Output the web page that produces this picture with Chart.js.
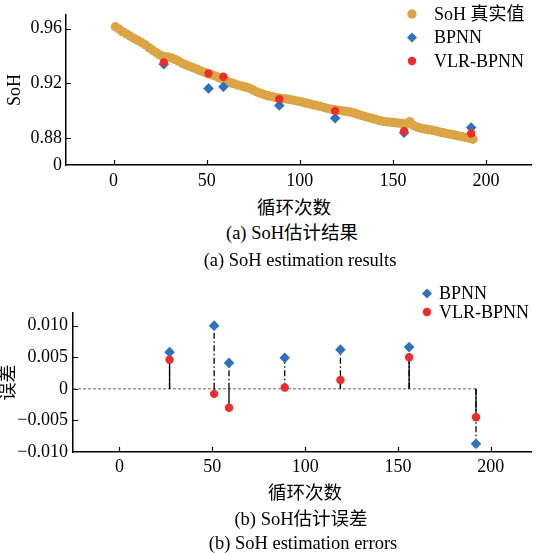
<!DOCTYPE html>
<html>
<head>
<meta charset="utf-8">
<script src="https://cdn.jsdelivr.net/npm/chart.js@4.4.1/dist/chart.umd.min.js"></script>
<style>
  body { margin: 0; background: #fff; }
  #wrap { position: relative; width: 537px; height: 553px; overflow: hidden; }
  canvas { position: absolute; left: 0; }
  .cap {
    position: absolute; transform: translateX(-50%); white-space: nowrap;
    font: 18.5px "Liberation Serif", "Noto Sans CJK SC", serif; line-height: 20px; color: #000;
  }
</style>
</head>
<body>
<div id="wrap">
  <canvas id="soh" width="537" height="190" style="top:0"></canvas>
  <canvas id="err" width="537" height="215" style="top:270px"></canvas>
  <div class="cap" style="left:294px;top:198px">循环次数</div>
  <div class="cap" style="left:292px;top:223px">(a) SoH估计结果</div>
  <div class="cap" style="left:300px;top:250px">(a) SoH estimation results</div>
  <div class="cap" style="left:305px;top:483px">循环次数</div>
  <div class="cap" style="left:301px;top:509px">(b) SoH估计误差</div>
  <div class="cap" style="left:303px;top:533px">(b) SoH estimation errors</div>
</div>
<script>
// measured SoH over the cycling test
const cycles = [1, 3, 5, 7, 9, 11, 13, 15, 17, 19, 21, 23, 25, 27, 29, 31, 33, 35, 37, 39,
  41, 43, 45, 47, 49, 51, 53, 55, 57, 59, 61, 63, 65, 67, 69, 71, 73, 75, 77, 79,
  81, 83, 85, 87, 89, 91, 93, 95, 97, 99, 101, 103, 105, 107, 109, 111, 113, 115, 117, 119,
  121, 123, 125, 127, 129, 131, 133, 135, 137, 139, 141, 143, 145, 147, 149, 151, 153, 155, 157, 159,
  161, 163, 165, 167, 169, 171, 173, 175, 177, 179, 181, 183, 185, 187, 189, 191, 193];
const sohTrue = [0.9614, 0.9597, 0.9577, 0.9561, 0.9545, 0.9529, 0.9515, 0.9499, 0.9484, 0.9462,
  0.9443, 0.9425, 0.9407, 0.9398, 0.9394, 0.9388, 0.9376, 0.9362, 0.9347, 0.9335,
  0.9325, 0.9314, 0.9302, 0.9291, 0.9280, 0.9270, 0.9262, 0.9253, 0.9241, 0.9229,
  0.9216, 0.9205, 0.9197, 0.9188, 0.9181, 0.9174, 0.9165, 0.9152, 0.9139, 0.9128,
  0.9119, 0.9110, 0.9104, 0.9098, 0.9093, 0.9090, 0.9087, 0.9082, 0.9077, 0.9071,
  0.9065, 0.9058, 0.9052, 0.9045, 0.9039, 0.9032, 0.9025, 0.9018, 0.9013, 0.9008,
  0.9004, 0.9000, 0.8996, 0.8992, 0.8985, 0.8976, 0.8966, 0.8959, 0.8952, 0.8944,
  0.8937, 0.8929, 0.8923, 0.8920, 0.8917, 0.8914, 0.8911, 0.8908, 0.8904, 0.8922,
  0.8893, 0.8882, 0.8874, 0.8868, 0.8864, 0.8859, 0.8853, 0.8846, 0.8840, 0.8834,
  0.8829, 0.8824, 0.8818, 0.8812, 0.8806, 0.8800, 0.8793];

// test cycles and the two network estimates
const testCycles = [27, 51, 59, 89, 119, 156, 192];
const sohBPNN = [0.9340, 0.9164, 0.9176, 0.9040, 0.8947, 0.8840, 0.8879];
const sohVLR = [0.9354, 0.9274, 0.9249, 0.9086, 0.9000, 0.8852, 0.8835];
const errBPNN = [0.0058, 0.0100, 0.0041, 0.0049, 0.0062, 0.0066, -0.0087];
const errVLR = [0.0046, -0.0008, -0.0030, 0.0002, 0.0014, 0.0050, -0.0045];

const xTicks = [0, 50, 100, 150, 200];
const sohTicks = [0.88, 0.92, 0.96];
const errTicks = [-0.010, -0.005, 0, 0.005, 0.010];
const errTickLabels = ['−0.010', '−0.005', '0', '0.005', '0.010'];

const GOLD = '#DBA444', BLUE = '#2F71BD', RED = '#EE2C2C';
const SERIF = '"Liberation Serif", "Noto Sans CJK SC", serif';

// short tick marks pointing into the plot
const innerTicks = {
  id: 'innerTicks',
  beforeDatasetsDraw(chart) {
    const {ctx, chartArea: a, scales: {x, y}} = chart;
    ctx.save();
    ctx.strokeStyle = '#000';
    ctx.lineWidth = 1.2;
    ctx.beginPath();
    x.ticks.forEach(t => {
      const px = Math.round(x.getPixelForValue(t.value)) + 0.5;
      ctx.moveTo(px, a.bottom);
      ctx.lineTo(px, a.bottom - 5);
    });
    y.ticks.forEach(t => {
      if (t.value <= y.min) return;
      const py = Math.round(y.getPixelForValue(t.value)) + 0.5;
      ctx.moveTo(a.left, py);
      ctx.lineTo(a.left + 5, py);
    });
    ctx.stroke();
    ctx.restore();
  }
};

// legend of marker datasets only (datasets with a label)
const markerLegend = {
  id: 'markerLegend',
  afterDraw(chart, args, opts) {
    const ctx = chart.ctx;
    ctx.save();
    ctx.font = '18px ' + SERIF;
    ctx.textBaseline = 'middle';
    chart.data.datasets.filter(d => d.label).forEach((d, i) => {
      const y = opts.y + i * opts.gap;
      const r = Math.min(d.pointRadius, 5);
      ctx.fillStyle = d.backgroundColor;
      ctx.beginPath();
      if (d.pointStyle === 'rectRot') {
        ctx.moveTo(opts.x - r, y);
        ctx.lineTo(opts.x, y - r);
        ctx.lineTo(opts.x + r, y);
        ctx.lineTo(opts.x, y + r);
        ctx.closePath();
      } else {
        ctx.arc(opts.x, y, r, 0, Math.PI * 2);
      }
      ctx.fill();
      ctx.fillStyle = '#000';
      ctx.fillText(d.label, opts.textX, y + 1);
    });
    ctx.restore();
  }
};

function pts(xs, ys) {
  return xs.map((c, i) => ({x: c, y: ys[i]}));
}

// vertical stems from the zero line, broken by null points
function stems(xs, ys) {
  const out = [];
  xs.forEach((c, i) => {
    out.push({x: c, y: 0}, {x: c, y: ys[i]}, {x: c, y: null});
  });
  return out;
}

function axisX(min, max, pad, h) {
  return {
    type: 'linear', min: min, max: max,
    grid: {display: false, drawTicks: false},
    border: {display: true, color: '#000', width: 1.5},
    ticks: {
      color: '#000', font: {family: SERIF, size: 18}, padding: pad,
      autoSkip: false, maxRotation: 0, callback: v => String(v)
    },
    afterBuildTicks: s => { s.ticks = xTicks.map(v => ({value: v})); },
    afterFit: s => { s.height = h; }
  };
}

const base = {
  responsive: false,
  animation: false,
  events: [],
  plugins: {legend: {display: false}, tooltip: {enabled: false}}
};

new Chart(document.getElementById('soh'), {
  type: 'scatter',
  data: {
    datasets: [
      {label: 'SoH 真实值', data: pts(cycles, sohTrue), pointStyle: 'circle', pointRadius: 4.7,
       backgroundColor: GOLD, pointBorderWidth: 0, order: 2},
      {label: 'BPNN', data: pts(testCycles, sohBPNN), pointStyle: 'rectRot', pointRadius: 5.3,
       backgroundColor: BLUE, pointBorderWidth: 0, order: 1},
      {label: 'VLR-BPNN', data: pts(testCycles, sohVLR), pointStyle: 'circle', pointRadius: 4.2,
       backgroundColor: RED, pointBorderWidth: 0, order: 0}
    ]
  },
  options: Object.assign({}, base, {
    layout: {padding: {top: 15, right: 1, left: 0, bottom: 0}},
    scales: {
      x: axisX(-25.5, 224.5, 5, 25),
      y: {
        type: 'linear', min: 0.8605, max: 0.970,
        grid: {display: false, drawTicks: false},
        border: {display: true, color: '#000', width: 1.5},
        title: {display: true, text: 'SoH', color: '#000', font: {family: SERIF, size: 18}, padding: {top: 4, bottom: 0}},
        ticks: {
          color: '#000', font: {family: SERIF, size: 18}, padding: 4, autoSkip: false,
          callback: (v, i) => i === 0 ? '0' : v.toFixed(2)
        },
        afterBuildTicks: s => { s.ticks = [s.min].concat(sohTicks).map(v => ({value: v})); },
        afterFit: s => { s.width = 66; }
      }
    },
    plugins: Object.assign({}, base.plugins, {
      markerLegend: {x: 412, textX: 434, y: 14, gap: 23.5}
    })
  }),
  plugins: [innerTicks, markerLegend]
});

new Chart(document.getElementById('err'), {
  type: 'scatter',
  data: {
    datasets: [
      {label: 'BPNN', data: pts(testCycles, errBPNN), pointStyle: 'rectRot', pointRadius: 5.3,
       backgroundColor: BLUE, pointBorderWidth: 0, order: 1},
      {label: 'VLR-BPNN', data: pts(testCycles, errVLR), pointStyle: 'circle', pointRadius: 4.2,
       backgroundColor: RED, pointBorderWidth: 0, order: 0},
      {data: stems(testCycles, errBPNN), showLine: true, spanGaps: false, pointRadius: 0,
       borderColor: '#000', borderWidth: 1.3, borderDash: [6, 2.5, 1.5, 2.5], order: 3},
      {data: stems(testCycles, errVLR), showLine: true, spanGaps: false, pointRadius: 0,
       borderColor: '#000', borderWidth: 1.3, order: 2},
      {data: [{x: -25, y: 0}, {x: testCycles[testCycles.length - 1], y: 0}], showLine: true,
       pointRadius: 0, borderColor: '#666', borderWidth: 1, borderDash: [3, 2], order: 4}
    ]
  },
  options: Object.assign({}, base, {
    layout: {padding: {top: 43, right: 1, left: 0, bottom: 0}},
    scales: {
      x: axisX(-25, 222, 4, 33),
      y: {
        type: 'linear', min: -0.010, max: 0.012,
        grid: {display: false, drawTicks: false},
        border: {display: true, color: '#000', width: 1.5},
        title: {display: true, text: '误差', color: '#000', font: {family: SERIF, size: 18, lineHeight: 1}, padding: {top: 0, bottom: 0}},
        ticks: {
          color: '#000', font: {family: SERIF, size: 18}, padding: 5, autoSkip: false,
          callback: (v, i) => errTickLabels[i]
        },
        afterBuildTicks: s => { s.ticks = errTicks.map(v => ({value: v})); },
        afterFit: s => { s.width = 73; }
      }
    },
    plugins: Object.assign({}, base.plugins, {
      markerLegend: {x: 427, textX: 439, y: 23.5, gap: 18.5}
    })
  }),
  plugins: [innerTicks, markerLegend]
});
</script>
</body>
</html>
